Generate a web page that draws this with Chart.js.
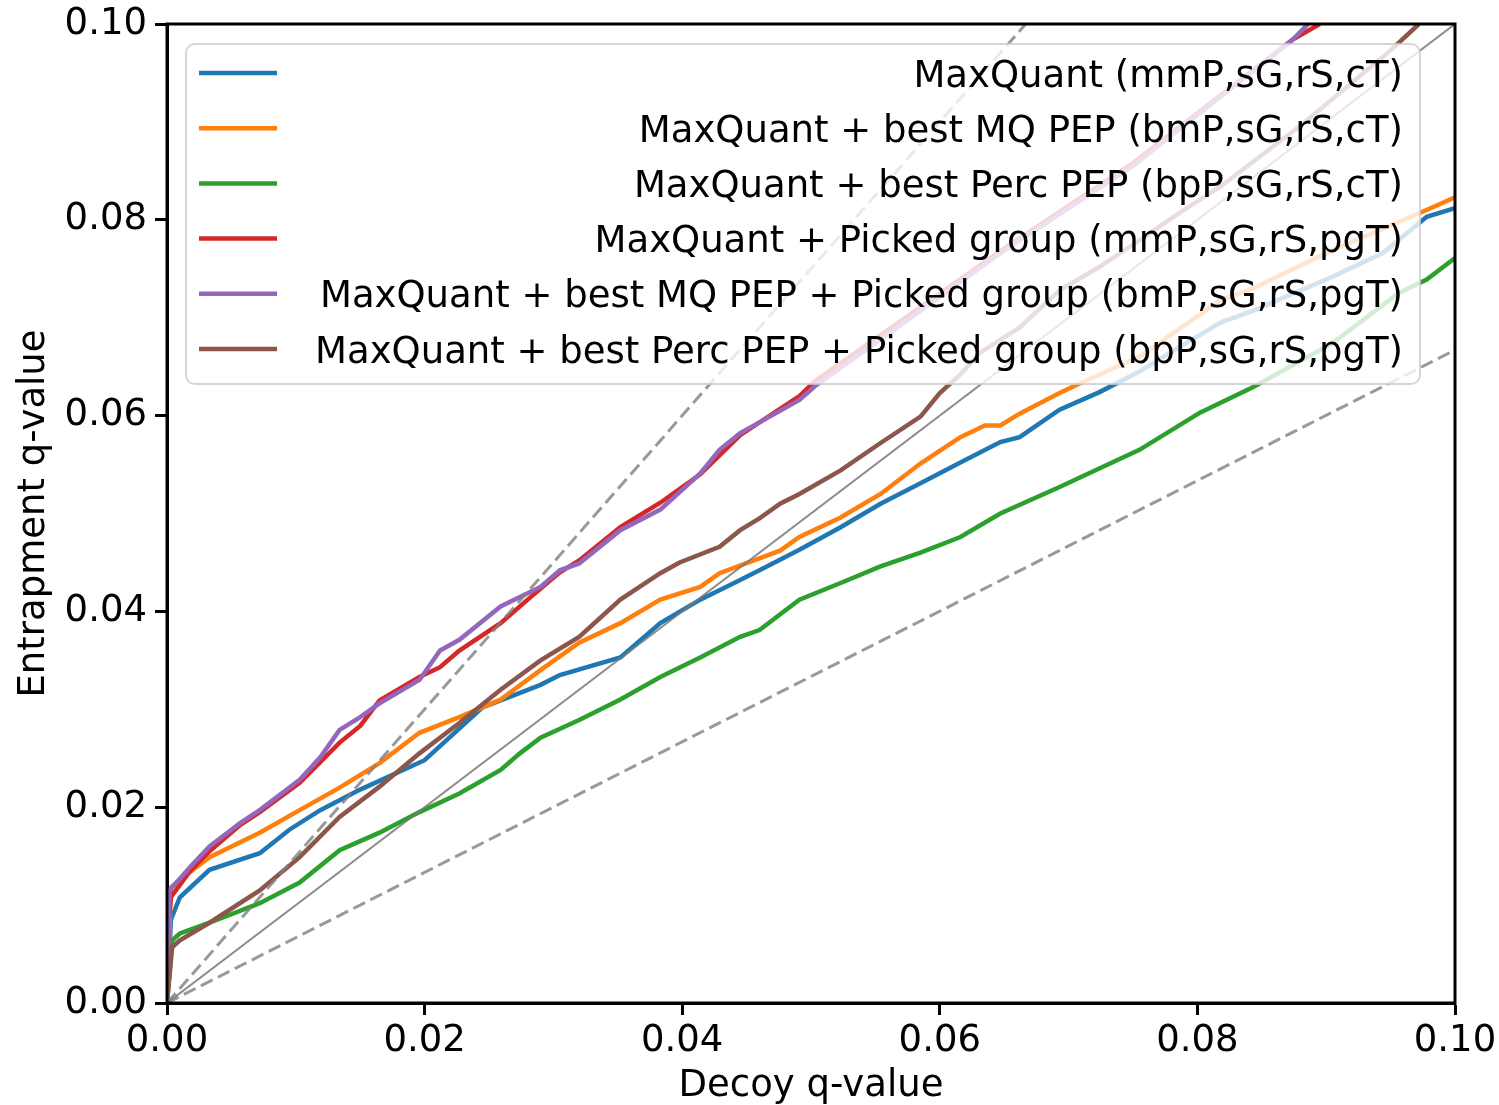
<!DOCTYPE html>
<html>
<head>
<meta charset="utf-8">
<script src="https://cdn.jsdelivr.net/npm/chart.js@4.4.1/dist/chart.umd.min.js"></script>
<style>
  html, body { margin: 0; padding: 0; background: #fff; }
  canvas { display: block; }
</style>
</head>
<body>
<canvas id="chart" width="1499" height="1105"></canvas>
<script>
// values (decoy q-value -> entrapment q-value)
const blueX = [0, 0.0003, 0.001, 0.0033, 0.0072, 0.0095, 0.0119, 0.015, 0.02, 0.0245, 0.029, 0.0305, 0.0352, 0.0383, 0.0414, 0.0445, 0.046, 0.0491, 0.0523, 0.0554, 0.0585, 0.0616, 0.0647, 0.0662, 0.0693, 0.0724, 0.0755, 0.0786, 0.0818, 0.0843, 0.0905, 0.0944, 0.0978, 0.1];
const blueY = [0, 0.0085, 0.0108, 0.0136, 0.0153, 0.0177, 0.0197, 0.0218, 0.0248, 0.0302, 0.0325, 0.0335, 0.0353, 0.0388, 0.0412, 0.0432, 0.0442, 0.0463, 0.0486, 0.051, 0.0531, 0.0552, 0.0573, 0.0578, 0.0606, 0.0624, 0.0645, 0.067, 0.0695, 0.0707, 0.0742, 0.0766, 0.0803, 0.0812];

const orangeX = [0, 0.0003, 0.001, 0.0033, 0.0072, 0.0103, 0.0134, 0.0165, 0.0196, 0.0227, 0.0259, 0.029, 0.032, 0.0352, 0.0383, 0.0414, 0.0429, 0.0476, 0.0491, 0.0523, 0.0554, 0.0585, 0.0616, 0.0635, 0.0647, 0.0662, 0.0693, 0.0709, 0.0755, 0.0818, 0.0843, 0.0905, 0.0978, 0.1];
const orangeY = [0, 0.0118, 0.0126, 0.0149, 0.0174, 0.0197, 0.022, 0.0245, 0.0276, 0.0292, 0.031, 0.034, 0.0368, 0.0388, 0.0412, 0.0425, 0.0439, 0.0462, 0.0476, 0.0496, 0.052, 0.0551, 0.0578, 0.059, 0.059, 0.0602, 0.0623, 0.0633, 0.066, 0.0718, 0.073, 0.0769, 0.081, 0.0823];

const greenX = [0, 0.0004, 0.001, 0.0033, 0.0072, 0.0103, 0.0134, 0.0165, 0.0196, 0.0227, 0.0259, 0.0274, 0.029, 0.032, 0.0352, 0.0383, 0.0414, 0.0445, 0.046, 0.0491, 0.0523, 0.0554, 0.0585, 0.0616, 0.0647, 0.0693, 0.0755, 0.0802, 0.0843, 0.0905, 0.0956, 0.0978, 0.1];
const greenY = [0, 0.0064, 0.0071, 0.0082, 0.0102, 0.0123, 0.0156, 0.0174, 0.0195, 0.0214, 0.0238, 0.0255, 0.0271, 0.0289, 0.031, 0.0333, 0.0353, 0.0374, 0.0381, 0.0412, 0.0429, 0.0446, 0.046, 0.0476, 0.05, 0.0527, 0.0565, 0.0603, 0.0629, 0.0674, 0.0725, 0.0739, 0.0761];

const redX = [0, 0.0001, 0.0003, 0.0018, 0.0033, 0.0057, 0.0072, 0.0103, 0.0134, 0.015, 0.0165, 0.0196, 0.0212, 0.0227, 0.0259, 0.028, 0.0305, 0.032, 0.0352, 0.0383, 0.0414, 0.0445, 0.0491, 0.0503, 0.0647, 0.075, 0.0874, 0.0895];
const redY = [0, 0.008, 0.0108, 0.0135, 0.0155, 0.0182, 0.0195, 0.0225, 0.0266, 0.0283, 0.0309, 0.0333, 0.0343, 0.036, 0.0388, 0.0412, 0.044, 0.0452, 0.0486, 0.0511, 0.054, 0.058, 0.062, 0.0635, 0.0768, 0.0858, 0.0984, 0.1];

const purpleX = [0, 0.0002, 0.0018, 0.0033, 0.0057, 0.0072, 0.0103, 0.0119, 0.0134, 0.015, 0.0165, 0.0196, 0.0212, 0.0227, 0.0259, 0.029, 0.0305, 0.032, 0.0352, 0.0383, 0.0414, 0.0429, 0.0445, 0.0453, 0.0491, 0.0503, 0.0565, 0.0647, 0.075, 0.0874, 0.0886];
const purpleY = [0, 0.0115, 0.0139, 0.016, 0.0184, 0.0197, 0.0228, 0.0251, 0.0279, 0.0292, 0.0306, 0.033, 0.036, 0.0371, 0.0405, 0.0425, 0.0442, 0.0449, 0.0483, 0.0504, 0.0541, 0.0565, 0.0582, 0.0588, 0.0616, 0.063, 0.0688, 0.0766, 0.0855, 0.0984, 0.1];

const brownX = [0, 0.0004, 0.001, 0.0033, 0.0072, 0.0103, 0.0134, 0.0165, 0.0196, 0.0227, 0.0259, 0.029, 0.032, 0.0352, 0.0383, 0.0398, 0.0429, 0.0445, 0.046, 0.0476, 0.0491, 0.0523, 0.0554, 0.0585, 0.06, 0.0616, 0.0631, 0.0662, 0.0693, 0.0724, 0.0755, 0.0786, 0.0818, 0.088, 0.095, 0.0972];
const brownY = [0, 0.0057, 0.0064, 0.0082, 0.0115, 0.0149, 0.019, 0.0221, 0.0255, 0.0286, 0.032, 0.035, 0.0374, 0.0412, 0.0439, 0.045, 0.0466, 0.0483, 0.0495, 0.051, 0.052, 0.0544, 0.0572, 0.0599, 0.0623, 0.0642, 0.0664, 0.069, 0.0728, 0.0752, 0.0779, 0.0807, 0.0834, 0.0896, 0.0973, 0.1];

// reference lines y = x, y = 1.5x, y = x / 1.5
const refX = [0, 0.1];
const refSame = [0, 0.1];
const refUpper = [0, 0.15];
const refLower = [0, 0.0667];

const seriesLabels = [
  'MaxQuant (mmP,sG,rS,cT)',
  'MaxQuant + best MQ PEP (bmP,sG,rS,cT)',
  'MaxQuant + best Perc PEP (bpP,sG,rS,cT)',
  'MaxQuant + Picked group (mmP,sG,rS,pgT)',
  'MaxQuant + best MQ PEP + Picked group (bmP,sG,rS,pgT)',
  'MaxQuant + best Perc PEP + Picked group (bpP,sG,rS,pgT)'
];
const seriesColors = ['#1f77b4', '#ff7f0e', '#2ca02c', '#d62728', '#9467bd', '#8c564b'];
const xTicks = [0, 0.02, 0.04, 0.06, 0.08, 0.1];

const FONT = 'DejaVu Sans';
const FS = 37;

function pts(xs, ys) {
  return xs.map((x, i) => ({ x: x, y: ys[i] }));
}

const curveData = [
  pts(blueX, blueY), pts(orangeX, orangeY), pts(greenX, greenY),
  pts(redX, redY), pts(purpleX, purpleY), pts(brownX, brownY)
];

const datasets = curveData.map((d, i) => ({
  label: seriesLabels[i],
  data: d,
  borderColor: seriesColors[i],
  borderWidth: 4.5,
  order: 20 - i,   // later series on top, like matplotlib
  clip: 0
}));

datasets.push(
  { label: 'ref1', data: pts(refX, refSame), borderColor: 'rgba(120,120,120,0.85)', borderWidth: 2, order: 1, clip: 0 },
  { label: 'ref2', data: pts(refX, refUpper), borderColor: 'rgba(128,128,128,0.8)', borderWidth: 3, borderDash: [13, 6], order: 1, clip: 0 },
  { label: 'ref3', data: pts(refX, refLower), borderColor: 'rgba(128,128,128,0.8)', borderWidth: 3, borderDash: [13, 6], order: 1, clip: 0 }
);

// frame on all four sides, drawn above the lines
const framePlugin = {
  id: 'frame',
  afterDatasetsDraw(chart) {
    const { ctx, chartArea: a } = chart;
    ctx.save();
    ctx.strokeStyle = '#000';
    ctx.lineWidth = 3;
    ctx.strokeRect(a.left, a.top, a.right - a.left, a.bottom - a.top);
    ctx.restore();
  }
};

// matplotlib style legend: translucent box, handles left, text right aligned
const legendPlugin = {
  id: 'mplLegend',
  afterDraw(chart) {
    const ctx = chart.ctx;
    const box = { x: 186, y: 44, w: 1234, h: 340 };
    ctx.save();
    ctx.beginPath();
    ctx.roundRect(box.x, box.y, box.w, box.h, 9);
    ctx.fillStyle = 'rgba(255,255,255,0.8)';
    ctx.fill();
    ctx.strokeStyle = 'rgba(204,204,204,0.8)';
    ctx.lineWidth = 2;
    ctx.stroke();

    ctx.font = FS + 'px "' + FONT + '"';
    ctx.textAlign = 'right';
    ctx.textBaseline = 'middle';
    ctx.fillStyle = '#000';
    seriesLabels.forEach((lab, i) => {
      const y = 73 + i * 55.2;
      ctx.beginPath();
      ctx.moveTo(199, y);
      ctx.lineTo(277, y);
      ctx.strokeStyle = seriesColors[i];
      ctx.lineWidth = 4.5;
      ctx.stroke();
      ctx.fillText(lab, 1403, y + 4);
    });
    ctx.restore();
  }
};

const tickFmt = v => Number(v).toFixed(2);

new Chart(document.getElementById('chart').getContext('2d'), {
  type: 'scatter',
  data: { datasets: datasets },
  options: {
    responsive: false,
    animation: false,
    devicePixelRatio: 1,
    showLine: true,
    elements: { point: { radius: 0, hoverRadius: 0 }, line: { tension: 0 } },
    layout: { padding: { top: 24, right: 44, left: 0, bottom: 0 } },
    plugins: {
      legend: { display: false },
      tooltip: { enabled: false }
    },
    scales: {
      x: {
        type: 'linear',
        min: 0,
        max: 0.1,
        afterBuildTicks: s => { s.ticks = xTicks.map(v => ({ value: v })); },
        afterFit: s => { s.height = 102; s.paddingLeft = 0; s.paddingRight = 0; },
        ticks: {
          callback: tickFmt,
          color: '#000',
          font: { family: FONT, size: FS },
          padding: 4,
          maxRotation: 0,
          autoSkip: false
        },
        grid: { drawOnChartArea: false, tickLength: 12, tickWidth: 3, tickColor: '#000' },
        border: { display: true, color: '#000', width: 3 },
        title: {
          display: true,
          text: 'Decoy q-value',
          color: '#000',
          font: { family: FONT, size: FS, lineHeight: 1.0 },
          padding: { top: 0, bottom: 0 }
        }
      },
      y: {
        type: 'linear',
        min: 0,
        max: 0.1,
        afterBuildTicks: s => { s.ticks = xTicks.map(v => ({ value: v })); },
        afterFit: s => { s.width = 167; s.paddingTop = 0; s.paddingBottom = 0; },
        ticks: {
          callback: tickFmt,
          color: '#000',
          font: { family: FONT, size: FS },
          padding: 8,
          autoSkip: false
        },
        grid: { drawOnChartArea: false, tickLength: 12, tickWidth: 3, tickColor: '#000' },
        border: { display: true, color: '#000', width: 3 },
        title: {
          display: true,
          text: 'Entrapment q-value',
          color: '#000',
          font: { family: FONT, size: FS },
          padding: { top: 12, bottom: 0 }
        }
      }
    }
  },
  plugins: [framePlugin, legendPlugin]
});
</script>
</body>
</html>
